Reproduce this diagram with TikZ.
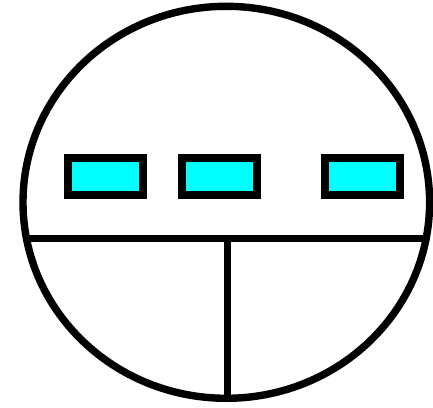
\documentclass[tikz,border=0pt]{standalone}
\usetikzlibrary{shapes.geometric}
\definecolor{keycyan}{RGB}{0,255,255}
\begin{document}
\begin{tikzpicture}[x=1pt,y=-1pt,
  key/.style={draw=black,fill=keycyan,line width=8pt,minimum width=75pt,minimum height=37.5pt,inner sep=0pt,outer sep=0pt},
  outline/.style={draw=black,line width=7.4pt}]
\useasboundingbox (0,0) rectangle (433,407);
\node[ellipse,outline,minimum width=406.6pt,minimum height=392pt,inner sep=0pt,outer sep=0pt] (body) at (226.3,202.3) {};
\node[key] (k1) at (105.7,176.5) {};
\node[key] (k2) at (219,176.5) {};
\node[key] (k3) at (362.6,176.5) {};
\begin{scope}
\clip (226.3,202.3) ellipse [x radius=203.3, y radius=196];
\coordinate (hl) at (0,238.7);
\coordinate (hr) at (433,238.7);
\coordinate (vt) at (227.5,238.7);
\coordinate (vb) at (227.5,407);
\draw[outline] (hl) -- (hr);
\draw[outline] (vt) -- (vb);
\end{scope}
\end{tikzpicture}
\end{document}
